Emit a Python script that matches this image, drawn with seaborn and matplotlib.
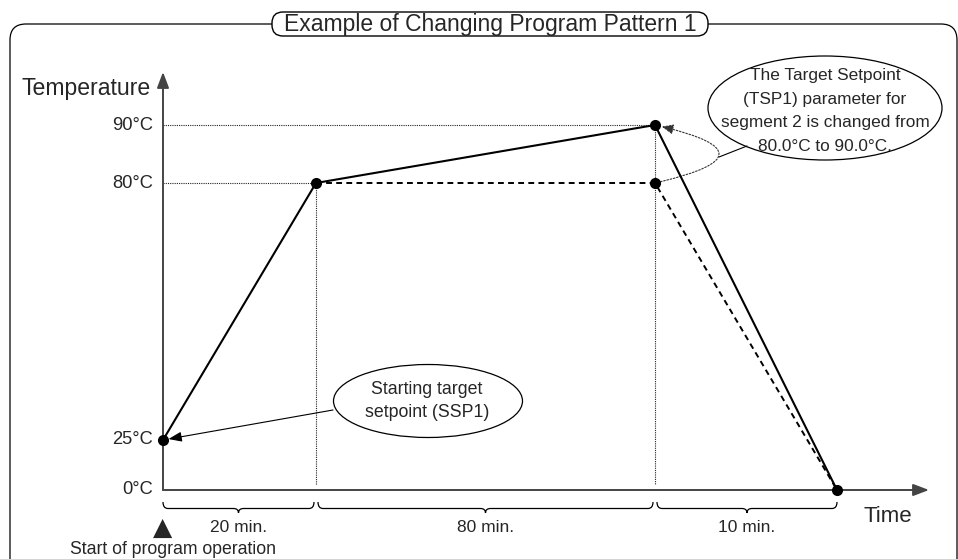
import numpy as np
import pandas as pd
import matplotlib
matplotlib.use("Agg")
import matplotlib.pyplot as plt
import matplotlib.transforms as mtransforms
from matplotlib.patches import Ellipse, FancyBboxPatch, FancyArrowPatch, PathPatch
from matplotlib.path import Path
import seaborn as sns

# 데이터
segment_minutes = [20, 80, 10]
segment_labels = ["20 min.", "80 min.", "10 min."]
ssp1 = 25
tsp_before = [80, 80, 0]
tsp_after = [80, 90, 0]
temp_ticks = [0, 25, 80, 90]
temp_tick_labels = ["0°C", "25°C", "80°C", "90°C"]

title = "Example of Changing Program Pattern 1"
note_big = "The Target Setpoint\n(TSP1) parameter for\nsegment 2 is changed from\n80.0°C to 90.0°C."
note_small = "Starting target\nsetpoint (SSP1)"

# 시간 축
times = np.concatenate([[0], np.cumsum(segment_minutes)])
after_df = pd.DataFrame({"time": times, "temp": [ssp1] + tsp_after})
before_df = pd.DataFrame({"time": times[1:], "temp": tsp_before})

W, H = 958, 559
# 그림이 비례가 아니라서 구간별 선형 스케일 사용 (픽셀 위치)
X_PIX = [163, 316, 655, 837]
Y_PIX = [H - 490, H - 440, H - 183, H - 125]


def piecewise(src, dst):
    src = np.asarray(src, float)
    dst = np.asarray(dst, float)

    def f(v):
        v = np.asarray(v, float)
        out = np.interp(v, src, dst)
        lo_s = (dst[1] - dst[0]) / (src[1] - src[0])
        hi_s = (dst[-1] - dst[-2]) / (src[-1] - src[-2])
        out = np.where(v < src[0], dst[0] + (v - src[0]) * lo_s, out)
        out = np.where(v > src[-1], dst[-1] + (v - src[-1]) * hi_s, out)
        return out
    return f


fx, ix = piecewise(times, X_PIX), piecewise(X_PIX, times)
fy, iy = piecewise(temp_ticks, Y_PIX), piecewise(Y_PIX, temp_ticks)

sns.set_theme(style="white")
plt.rcParams["font.family"] = ["Liberation Sans", "DejaVu Sans"]

fig = plt.figure(figsize=(W / 100, H / 100), dpi=100)
ax = fig.add_axes([0, 0, 1, 1])
ax.set_xscale("function", functions=(fx, ix))
ax.set_yscale("function", functions=(fy, iy))

# 픽셀 좌표 (왼쪽 위 기준)
pix = mtransforms.Affine2D().scale(1 / W, -1 / H).translate(0, 1) + fig.transFigure
x_pix_y_data = mtransforms.blended_transform_factory(pix, ax.transData)

# 바깥 틀과 제목
frame = FancyBboxPatch((10, 24), 947, 600, boxstyle="round,pad=0,rounding_size=16",
                       transform=pix, facecolor="none", edgecolor="black", lw=0.9, zorder=1)
ax.add_patch(frame)
tbox = FancyBboxPatch((272, 12), 436, 24, boxstyle="round,pad=0,rounding_size=11",
                      transform=pix, facecolor="white", edgecolor="black", lw=1.0, zorder=2)
ax.add_patch(tbox)
ax.text(490, 24, title, transform=pix, ha="center", va="center", fontsize=16.5, zorder=3)

# 점선 보조선
guide = dict(color="#222222", lw=0.8, linestyle=(0, (1, 1)), zorder=2)
bottom = float(iy(H - 485))
ax.plot([0, times[2]], [tsp_after[1]] * 2, **guide)
ax.plot([0, times[1]], [tsp_before[0]] * 2, **guide)
ax.plot([times[1]] * 2, [tsp_before[0], bottom], **guide)
ax.plot([times[2]] * 2, [tsp_after[1], bottom], **guide)

# 축
axis_arrow = dict(arrowstyle="-|>,head_length=0.95,head_width=0.36", color="#444444",
                  lw=1.4, mutation_scale=10, shrinkA=0, shrinkB=0)
ax.annotate("", xy=(0, float(iy(H - 72))), xytext=(0, 0), arrowprops=axis_arrow, zorder=3)
ax.annotate("", xy=(float(ix(929)), 0), xytext=(0, 0), arrowprops=axis_arrow, zorder=3)

# 프로그램 패턴
sns.lineplot(data=before_df, x="time", y="temp", ax=ax, color="black", lw=1.4,
             linestyle=(0, (3, 2.2)), zorder=4)
sns.lineplot(data=after_df, x="time", y="temp", ax=ax, color="black", lw=1.5, zorder=5)
pts = pd.concat([after_df, before_df.iloc[[1]]])
ax.plot(pts["time"], pts["temp"], "o", color="black", ms=8, mew=0, zorder=6)
ax.set_xlim(float(ix(0)), float(ix(W)))
ax.set_ylim(float(iy(0)), float(iy(H)))
ax.axis("off")

# 눈금 라벨
for t, lab in zip(temp_ticks, temp_tick_labels):
    ax.text(153, t, lab, transform=x_pix_y_data, ha="right", va="center", fontsize=13.2)
ax.text(151, 89, "Temperature", transform=pix, ha="right", va="center", fontsize=16.6)
ax.text(888, 517, "Time", transform=pix, ha="center", va="center", fontsize=16)

# 구간 중괄호
def brace(x0, x1, y_top=502, y_mid=508.5, y_tip=513, r=5):
    xm = (x0 + x1) / 2
    verts = [(x0, y_top), (x0, y_mid), (x0 + r, y_mid), (xm - r, y_mid),
             (xm, y_mid), (xm, y_tip), (xm, y_mid), (xm + r, y_mid),
             (x1 - r, y_mid), (x1, y_mid), (x1, y_top)]
    codes = [Path.MOVETO, Path.CURVE3, Path.CURVE3, Path.LINETO,
             Path.CURVE3, Path.CURVE3, Path.CURVE3, Path.CURVE3,
             Path.LINETO, Path.CURVE3, Path.CURVE3]
    ax.add_patch(PathPatch(Path(verts, codes), transform=pix, facecolor="none",
                           edgecolor="black", lw=0.9))
    return xm

edges = fx(times)
for i, lab in enumerate(segment_labels):
    x0 = edges[i] + (0 if i == 0 else 2)
    x1 = edges[i + 1] - (0 if i == len(segment_labels) - 1 else 2)
    xm = brace(x0, x1)
    ax.text(xm, 528, lab, transform=pix, ha="center", va="center", fontsize=12.5)

ax.text(163, 528, "▲", transform=pix, ha="center", va="center", fontsize=18,
        family=["DejaVu Sans"])
ax.text(173, 550, "Start of program operation", transform=pix, ha="center",
        va="center", fontsize=12.7)

# 설명 말풍선 (큰 것)
ax.add_patch(Ellipse((825, 108), 234, 104, transform=pix, facecolor="white",
                     edgecolor="black", lw=0.9, zorder=3))
ax.text(825, 111, note_big, transform=pix, ha="center", va="center", fontsize=12.4,
        linespacing=1.72, zorder=4)
ax.plot([747, 719], [146, 157], color="black", lw=0.8, transform=pix, zorder=3)
curve = FancyArrowPatch((times[2], tsp_before[1]), (times[2], tsp_after[1]),
                        connectionstyle="arc3,rad=2.2",
                        arrowstyle="-|>,head_length=0.7,head_width=0.3",
                        mutation_scale=10, shrinkA=4, shrinkB=5,
                        color="#333333", lw=0.8, linestyle=(0, (1.5, 1.5)), zorder=3)
ax.add_patch(curve)

# 설명 말풍선 (작은 것)
ax.add_patch(Ellipse((428, 401), 189, 73, transform=pix, facecolor="white",
                     edgecolor="black", lw=0.9, zorder=3))
ax.text(427, 401, note_small, transform=pix, ha="center", va="center", fontsize=12.8,
        linespacing=1.4, zorder=4)
ax.annotate("", xy=(0, ssp1), xytext=(333, 410), textcoords=pix,
            arrowprops=dict(arrowstyle="-|>,head_length=0.8,head_width=0.3",
                            color="black", lw=0.8, mutation_scale=10,
                            shrinkA=0, shrinkB=4), zorder=3)

fig.savefig("out.png", dpi=100)
